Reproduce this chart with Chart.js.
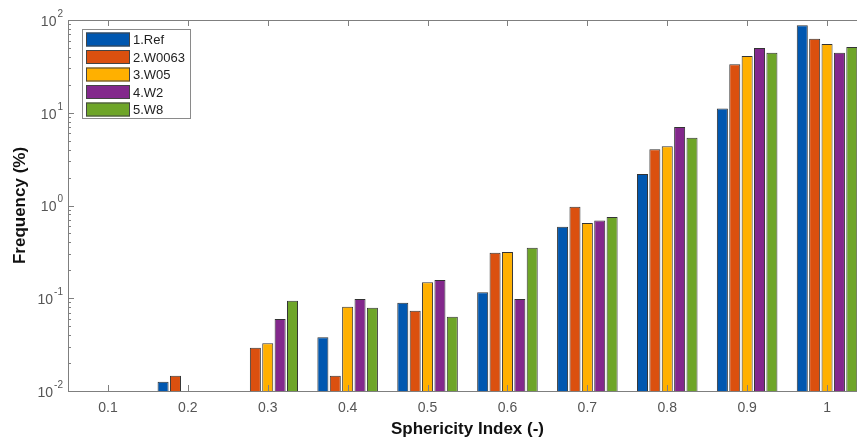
<!DOCTYPE html>
<html>
<head>
<meta charset="utf-8">
<script src="https://cdn.jsdelivr.net/npm/chart.js@4/dist/chart.umd.min.js"></script>
<style>
  html, body { margin: 0; padding: 0; background: #fff; overflow: hidden; }
  #wrap { width: 870px; height: 438px; }
</style>
</head>
<body>
<div id="wrap"><canvas id="c" width="870" height="438"></canvas></div>
<script>
// Sphericity index classes
const categories = ['0.1', '0.2', '0.3', '0.4', '0.5', '0.6', '0.7', '0.8', '0.9', '1'];

// Frequency (%) per class for each sample
const ref   = [null, 0.0126, null,   0.0379, 0.0895, 0.116, 0.59,  2.19, 11.1, 87.7];
const w0063 = [null, 0.0146, 0.0293, 0.0146, 0.0734, 0.31,  0.97,  4.03, 33.3, 62.9];
const w05   = [null, null,   0.0327, 0.081,  0.1486, 0.315, 0.647, 4.35, 40.9, 55.1];
const w2    = [null, null,   0.0597, 0.098,  0.157,  0.098, 0.69,  7.02, 49.9, 44.4];
const w8    = [null, null,   0.094,  0.079,  0.0633, 0.351, 0.75,  5.38, 44.4, 51.2];

const seriesNames = ['1.Ref', '2.W0063', '3.W05', '4.W2', '5.W8'];
const seriesValues = [ref, w0063, w05, w2, w8];
const seriesColors = ['#0057b0', '#db500f', '#ffb000', '#83288c', '#6ea528'];

// Log-axis decade ticks and their exponents
const yTicks = [0.01, 0.1, 1, 10, 100];
const yExponents = ['-2', '-1', '0', '1', '2'];

const AXIS = '#7f7f7f';
const TICKTXT = '#555555';
const FONT = '"Liberation Sans", Arial, Helvetica, sans-serif';

const axesPlugin = {
  id: 'matlabAxes',
  afterDatasetsDraw(chart) {
    const ctx = chart.ctx;
    const a = chart.chartArea;
    const xs = chart.scales.x, ys = chart.scales.y;
    ctx.save();
    ctx.strokeStyle = AXIS;
    ctx.lineWidth = 1;
    // box
    ctx.strokeRect(Math.round(a.left) + 0.5, Math.round(a.top) + 0.5,
                   Math.round(a.right - a.left), Math.round(a.bottom - a.top));
    // x ticks, top and bottom, pointing inward
    ctx.beginPath();
    categories.forEach((c, i) => {
      const px = Math.round(xs.getPixelForTick(i)) + 0.5;
      ctx.moveTo(px, a.bottom); ctx.lineTo(px, a.bottom - 6);
      ctx.moveTo(px, a.top); ctx.lineTo(px, a.top + 6);
    });
    // y ticks, major and minor
    for (let k = -2; k <= 2; k++) {
      const base = Math.pow(10, k);
      const py = Math.round(ys.getPixelForValue(base)) + 0.5;
      ctx.moveTo(a.left, py); ctx.lineTo(a.left + 6, py);
      ctx.moveTo(a.right, py); ctx.lineTo(a.right - 6, py);
      if (k < 2) {
        for (let m = 2; m <= 9; m++) {
          const my = Math.round(ys.getPixelForValue(m * base)) + 0.5;
          ctx.moveTo(a.left, my); ctx.lineTo(a.left + 3, my);
          ctx.moveTo(a.right, my); ctx.lineTo(a.right - 3, my);
        }
      }
    }
    ctx.stroke();

    // x tick labels
    ctx.fillStyle = TICKTXT;
    ctx.font = '14px ' + FONT;
    ctx.textAlign = 'center';
    ctx.textBaseline = 'middle';
    categories.forEach((c, i) => {
      ctx.fillText(c, xs.getPixelForTick(i), a.bottom + 17);
    });

    // y tick labels as 10 with superscript exponent
    yTicks.forEach((v, i) => {
      const py = ys.getPixelForValue(v);
      const exp = yExponents[i];
      ctx.font = '10px ' + FONT;
      const ew = ctx.measureText(exp).width;
      const right = a.left - 5;
      ctx.textAlign = 'left';
      ctx.textBaseline = 'middle';
      ctx.fillText(exp, right - ew, py - 6);
      ctx.font = '14px ' + FONT;
      ctx.textAlign = 'right';
      ctx.fillText('10', right - ew - 1, py + 2);
    });

    // axis titles
    ctx.fillStyle = '#111';
    ctx.font = 'bold 17px ' + FONT;
    ctx.textAlign = 'center';
    ctx.textBaseline = 'middle';
    ctx.fillText('Sphericity Index (-)', (a.left + a.right) / 2, 429);
    ctx.save();
    ctx.translate(20, (a.top + a.bottom) / 2);
    ctx.rotate(-Math.PI / 2);
    ctx.fillText('Frequency (%)', 0, 0);
    ctx.restore();

    // legend box
    const lx = 82, ly = 29, lw = 108, lh = 89;
    ctx.fillStyle = '#fff';
    ctx.fillRect(lx, ly, lw, lh);
    ctx.strokeStyle = '#8a8a8a';
    ctx.strokeRect(lx + 0.5, ly + 0.5, lw, lh);
    ctx.font = '13px ' + FONT;
    ctx.textAlign = 'left';
    ctx.textBaseline = 'middle';
    seriesNames.forEach((name, i) => {
      const cy = ly + 10.5 + i * 17.5;
      ctx.fillStyle = seriesColors[i];
      ctx.fillRect(86, cy - 7, 44, 14);
      ctx.strokeStyle = '#444';
      ctx.strokeRect(86.5, cy - 6.5, 43, 13);
      ctx.fillStyle = '#222';
      ctx.fillText(name, 133, cy + 1);
    });
    ctx.restore();
  }
};

new Chart(document.getElementById('c'), {
  type: 'bar',
  data: {
    labels: categories,
    datasets: seriesNames.map((name, i) => ({
      label: name,
      data: seriesValues[i],
      backgroundColor: seriesColors[i],
      borderColor: '#333333',
      borderWidth: 1,
      borderSkipped: 'bottom',
      categoryPercentage: 0.775,
      barPercentage: 0.89
    }))
  },
  options: {
    responsive: false,
    animation: false,
    layout: { padding: { left: 68, top: 20, right: 3, bottom: 47 } },
    plugins: { legend: { display: false }, tooltip: { enabled: false } },
    scales: {
      x: { display: false },
      y: { display: false, type: 'logarithmic', min: 0.01, max: 100 }
    }
  },
  plugins: [axesPlugin]
});
</script>
</body>
</html>
